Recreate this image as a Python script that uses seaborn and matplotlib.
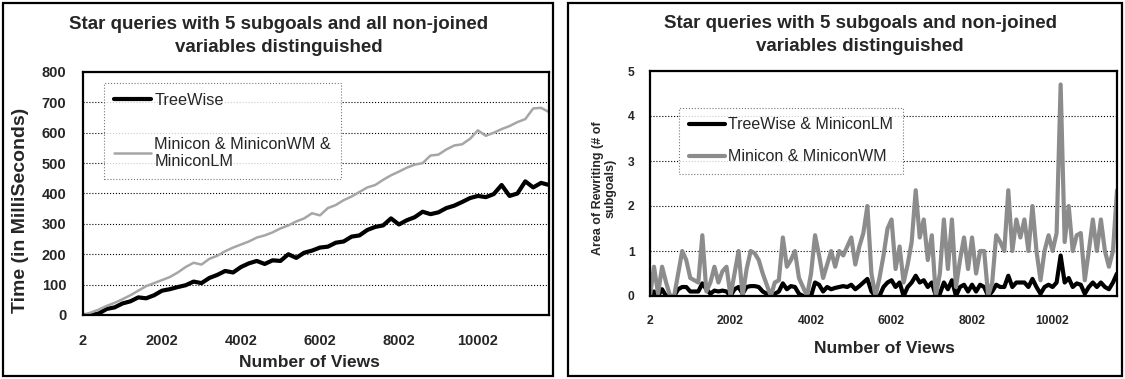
import numpy as np
import matplotlib
matplotlib.use("Agg")
import matplotlib.pyplot as plt
from matplotlib.patches import Rectangle
import seaborn as sns

# x categories (number of views)
views_left = np.arange(2, 11803, 200)
views_right = np.arange(2, 11603, 100)
x_ticks = [2, 2002, 4002, 6002, 8002, 10002]

# left chart: time in ms
treewise_time = [0, 0, 5, 20, 25, 38, 45, 58, 55, 65,
                 80, 85, 92, 98, 110, 105, 122, 132, 145, 140,
                 158, 170, 178, 168, 180, 178, 200, 188, 205, 212,
                 222, 225, 238, 242, 258, 262, 280, 290, 295, 318,
                 298, 312, 322, 340, 332, 338, 352, 360, 372, 385,
                 392, 388, 398, 428, 392, 400, 440, 420, 435, 428]
minicon_time = [0, 8, 18, 30, 40, 52, 65, 80, 95, 105,
                115, 125, 140, 158, 172, 166, 185, 195, 210, 222,
                232, 242, 255, 262, 272, 285, 295, 308, 318, 335,
                328, 352, 362, 378, 390, 405, 420, 428, 445, 460,
                472, 485, 495, 500, 525, 528, 545, 558, 562, 580,
                608, 590, 600, 612, 622, 635, 645, 680, 682, 668]

# right chart: area of rewriting (# of subgoals)
treewise_area = [0.0, 0.1, 0.0, 0.15, 0.0, 0.0, 0.0, 0.15, 0.2, 0.2,
                 0.1, 0.1, 0.1, 0.28, 0.15, 0.05, 0.12, 0.1, 0.12, 0.1,
                 0.0, 0.15, 0.2, 0.05, 0.2, 0.22, 0.22, 0.2, 0.1, 0.05,
                 0.05, 0.05, 0.1, 0.28, 0.15, 0.22, 0.2, 0.05, 0.0, 0.0,
                 0.0, 0.3, 0.25, 0.1, 0.2, 0.15, 0.18, 0.2, 0.22, 0.2,
                 0.25, 0.15, 0.22, 0.3, 0.38, 0.1, 0.0, 0.0, 0.2, 0.3,
                 0.35, 0.2, 0.3, 0.0, 0.2, 0.3, 0.45, 0.3, 0.35, 0.2,
                 0.3, 0.0, 0.05, 0.3, 0.15, 0.35, 0.0, 0.2, 0.25, 0.1,
                 0.25, 0.1, 0.25, 0.2, 0.0, 0.1, 0.25, 0.2, 0.2, 0.45,
                 0.2, 0.3, 0.3, 0.3, 0.2, 0.38, 0.2, 0.05, 0.2, 0.25,
                 0.2, 0.3, 0.9, 0.3, 0.4, 0.2, 0.28, 0.25, 0.05, 0.2,
                 0.3, 0.2, 0.3, 0.2, 0.15, 0.3, 0.5]
minicon_area = [0.0, 0.65, 0.05, 0.65, 0.3, 0.0, 0.0, 0.5, 1.0, 0.8,
                0.4, 0.35, 0.3, 1.35, 0.1, 0.3, 0.65, 0.3, 0.55, 0.65,
                0.0, 0.5, 1.0, 0.0, 0.6, 1.0, 0.95, 0.8, 0.5, 0.25,
                0.0, 0.3, 0.35, 1.3, 0.65, 0.8, 1.0, 0.4, 0.2, 0.0,
                0.5, 1.35, 0.9, 0.4, 0.7, 1.0, 0.65, 1.0, 0.9, 1.1,
                1.3, 0.7, 1.1, 1.4, 2.0, 0.5, 0.0, 0.4, 0.9, 1.5,
                1.7, 0.6, 1.1, 0.3, 0.7, 1.2, 2.35, 1.3, 1.7, 0.8,
                1.35, 0.0, 0.5, 1.7, 0.6, 1.7, 0.2, 0.8, 1.3, 0.6,
                1.3, 0.5, 1.0, 1.0, 0.0, 0.3, 1.35, 1.2, 1.0, 2.35,
                1.0, 1.7, 1.3, 1.7, 1.0, 2.0, 1.0, 0.35, 1.0, 1.35,
                1.0, 1.4, 4.7, 1.2, 2.0, 1.0, 1.35, 1.4, 0.35, 1.0,
                1.7, 1.0, 1.7, 1.0, 0.65, 1.0, 2.35]

sns.set_style("white")
plt.rcParams['font.family'] = ['Liberation Sans', 'DejaVu Sans']

W, H = 1125, 379
fig = plt.figure(figsize=(W / 100, H / 100), dpi=100)


def ax_at(l, t, r, b):
    return fig.add_axes([l / W, 1 - b / H, (r - l) / W, (b - t) / H])


# outer chart boxes
for l, r in [(3, 553), (568, 1122)]:
    fig.add_artist(Rectangle((l / W, 3 / H), (r - l) / W, 373 / H,
                             transform=fig.transFigure, fill=False,
                             edgecolor='black', linewidth=1.6))

ax1 = ax_at(83, 72, 549, 315)
ax2 = ax_at(650, 71, 1117, 296)

# ---- left chart
sns.lineplot(x=views_left, y=treewise_time, ax=ax1, color='black',
             linewidth=3, label='TreeWise', errorbar=None)
sns.lineplot(x=views_left, y=minicon_time, ax=ax1, color='#a6a6a6',
             linewidth=1.8, label='Minicon & MiniconWM &\nMiniconLM',
             errorbar=None)
ax1.set_xlim(views_left[0], views_left[-1])
ax1.set_ylim(0, 800)
ax1.set_yticks(range(0, 801, 100))
ax1.set_xticks(x_ticks)
ax1.set_xticks(range(1002, 11803, 2000), minor=True)
ax1.tick_params(axis='both', which='major', labelsize=10.5, length=4,
                direction='out', color='black')
ax1.tick_params(axis='x', which='major', pad=10)
ax1.tick_params(axis='x', which='minor', length=4, direction='out')
ax1.tick_params(axis='y', pad=8)
for t in ax1.get_xticklabels() + ax1.get_yticklabels():
    t.set_fontweight('bold')
ax1.yaxis.grid(True, linestyle=':', color='black', linewidth=0.8)
ax1.set_xlabel('Number of Views', fontsize=12.5, fontweight='bold')
ax1.set_ylabel('Time (in MilliSeconds)', fontsize=14, fontweight='bold')
ax1.xaxis.set_label_coords(0.485, -0.165)
ax1.yaxis.set_label_coords(-0.115, 0.43)
leg1 = ax1.legend(loc='upper left', bbox_to_anchor=(0.045, 0.955),
                  borderaxespad=0, fontsize=11.7, frameon=True, fancybox=False,
                  handlelength=2.3, handletextpad=0.2, labelspacing=1.8,
                  borderpad=0.6)
leg1.get_frame().set_linestyle(':')
leg1.get_frame().set_edgecolor('#555555')
leg1.get_frame().set_linewidth(0.8)
fig.text(279 / W, 1 - 36 / H,
         'Star queries with 5 subgoals and all non-joined\nvariables distinguished',
         ha='center', va='center', fontsize=13.5, fontweight='bold',
         linespacing=1.4)

# ---- right chart
sns.lineplot(x=views_right, y=treewise_area, ax=ax2, color='black',
             linewidth=3, label='TreeWise & MiniconLM', errorbar=None)
sns.lineplot(x=views_right, y=minicon_area, ax=ax2, color='#8c8c8c',
             linewidth=3, label='Minicon & MiniconWM', errorbar=None)
ax2.set_xlim(views_right[0], views_right[-1])
ax2.set_ylim(0, 5)
ax2.set_yticks(range(0, 6))
ax2.set_xticks(x_ticks)
ax2.tick_params(axis='both', which='major', labelsize=8.7, length=3,
                direction='out', color='black')
ax2.tick_params(axis='x', pad=11)
ax2.tick_params(axis='y', pad=8)
for t in ax2.get_xticklabels() + ax2.get_yticklabels():
    t.set_fontweight('bold')
ax2.yaxis.grid(True, linestyle=':', color='black', linewidth=0.8)
ax2.set_xlabel('Number of Views', fontsize=12.5, fontweight='bold')
ax2.set_ylabel('Area of Rewriting (# of\nsubgoals)', fontsize=9,
               fontweight='bold', linespacing=1.0)
ax2.xaxis.set_label_coords(0.501, -0.2)
ax2.yaxis.set_label_coords(-0.072, 0.48)
leg2 = ax2.legend(loc='upper left', bbox_to_anchor=(0.062, 0.836),
                  borderaxespad=0, fontsize=11.5, frameon=True, fancybox=False,
                  handlelength=2.3, handletextpad=0.2, labelspacing=1.05,
                  borderpad=0.6)
leg2.get_frame().set_linestyle(':')
leg2.get_frame().set_edgecolor('#555555')
leg2.get_frame().set_linewidth(0.8)
fig.text(860 / W, 1 - 35 / H,
         'Star queries with 5 subgoals and non-joined\nvariables distinguished',
         ha='center', va='center', fontsize=13.5, fontweight='bold',
         linespacing=1.4)

for ax in (ax1, ax2):
    for s in ax.spines.values():
        s.set_visible(True)
        s.set_color('black')
        s.set_linewidth(1.6)

fig.savefig('out.png', dpi=100)
